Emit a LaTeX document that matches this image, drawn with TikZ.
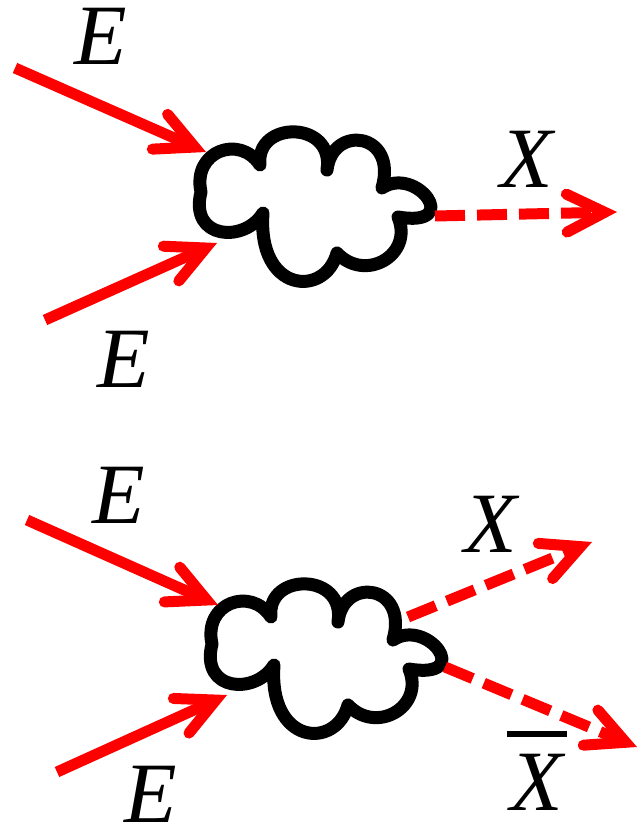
\documentclass[tikz,border=0pt]{standalone}
\usepackage{fontspec}
\setmainfont{Liberation Serif}
\usetikzlibrary{arrows.meta}
\begin{document}
\begin{tikzpicture}[x=1pt,y=-1pt,
  redarrow/.style={draw=red, line width=11pt, line cap=butt,
    -{Straight Barb[length=38pt,width=38pt,line cap=round,line join=miter]}},
  dasharrow/.style={redarrow, dash pattern=on 30pt off 12pt},
  lbl/.style={font=\fontsize{86}{90}\selectfont\itshape, inner sep=0pt, anchor=base},
  cloudline/.style={draw=black, fill=white, line width=13pt, line join=round},
  cloudshape/.pic={
    \path[cloudline] (201,192)
      .. controls (192,151) and (240,134) .. (260,165)
      .. controls (255,120) and (335,120) .. (327,170)
      .. controls (332,124) and (398,132) .. (382,188)
      .. controls (416,165) and (464,228) .. (398,217)
      .. controls (414,255) and (365,283) .. (337,253)
      .. controls (325,298) and (257,293) .. (263,213)
      .. controls (245,243) and (189,240) .. (201,192) -- cycle;
  }]
\useasboundingbox (0,0) rectangle (641,826);
\fill[white] (0,0) rectangle (641,826);

% ---------- top diagram ----------
\pic (c1) at (0,0) {cloudshape};
\coordinate (a1s) at (15,68);   \coordinate (a1e) at (206,152);
\coordinate (a2s) at (45,320);  \coordinate (a2e) at (217,243);
\coordinate (x1s) at (435,216); \coordinate (x1e) at (617,212);
\draw[redarrow] (a1s) -- (a1e);
\draw[redarrow] (a2s) -- (a2e);
\draw[dasharrow] (x1s) -- (x1e);
\node[lbl] (e1) at (101,65) {E};
\node[lbl] (e2) at (124,387) {E};
\node[lbl] (x1) at (527,188) {X};

% ---------- bottom diagram ----------
\pic (c2) at (11,452) {cloudshape};
\coordinate (a3s) at (27,520);  \coordinate (a3e) at (218,605);
\coordinate (a4s) at (57,772);  \coordinate (a4e) at (227,695);
\coordinate (x2s) at (408,617); \coordinate (x2e) at (592,542);
\coordinate (x3s) at (445,667); \coordinate (x3e) at (637,747);
\draw[redarrow] (a3s) -- (a3e);
\draw[redarrow] (a4s) -- (a4e);
\draw[dasharrow] (x2s) -- (x2e);
\draw[dasharrow] (x3s) -- (x3e);
\node[lbl] (e3) at (119,523) {E};
\node[lbl] (e4) at (151,822) {E};
\node[lbl] (x2) at (491,552) {X};
\node[lbl] (xb) at (537,810) {\rlap{\kern-4pt\raisebox{73pt}{\rule{60pt}{6.5pt}}}X};
\end{tikzpicture}
\end{document}
